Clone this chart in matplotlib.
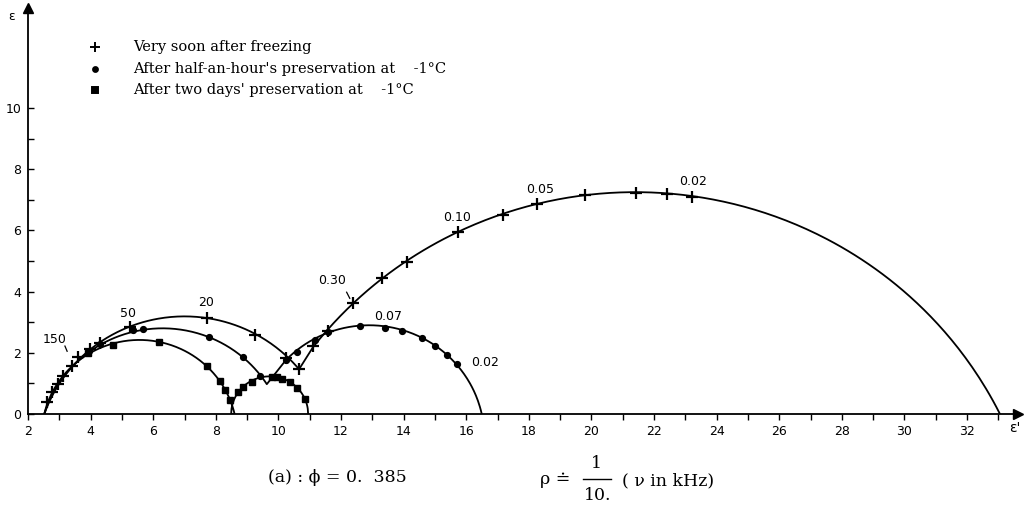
import numpy as np
import matplotlib.pyplot as plt

# measured points (eps', eps'') for the three runs
cross_x = [2.61, 2.77, 2.96, 3.12, 3.41, 3.60, 3.98, 4.30, 5.26, 7.72, 9.25, 10.24, 10.66,
           11.10, 11.58, 12.38, 13.30, 14.10, 15.74, 17.18, 18.26, 19.80, 21.43, 22.40, 23.20]
cross_y = [0.40, 0.72, 0.98, 1.25, 1.58, 1.85, 2.12, 2.32, 2.84, 3.14, 2.58, 1.82, 1.47,
           2.22, 2.70, 3.62, 4.43, 4.98, 5.95, 6.50, 6.86, 7.15, 7.22, 7.20, 7.10]

dot_x = [3.95, 4.30, 5.35, 5.67, 7.78, 8.87, 9.41, 10.24, 10.60, 11.17, 11.58,
         12.60, 13.40, 13.95, 14.60, 15.00, 15.40, 15.70]
dot_y = [2.05, 2.28, 2.75, 2.78, 2.52, 1.86, 1.25, 1.77, 2.03, 2.42, 2.68,
         2.88, 2.81, 2.71, 2.48, 2.22, 1.93, 1.64]

sq_x = [3.92, 4.70, 6.19, 7.72, 8.13, 8.30, 8.45, 8.71, 8.87, 9.15, 9.80, 9.95,
        10.10, 10.37, 10.60, 10.85]
sq_y = [1.98, 2.25, 2.34, 1.56, 1.07, 0.80, 0.45, 0.72, 0.88, 1.05, 1.20, 1.20,
        1.14, 1.04, 0.86, 0.50]

# fitted circular arcs: (centre x, centre y, radius, x from, x to)
cross_arcs = [(7.00, -1.55, 4.74, 2.52, 10.66), (21.40, -5.74, 12.99, 11.10, 33.05)]
dot_arcs = [(6.30, -1.15, 3.95, 2.52, 9.63), (12.90, -0.78, 3.68, 10.24, 16.50)]
sq_arcs = [(5.56, -0.70, 3.12, 2.52, 8.60), (9.72, 0.0, 1.23, 8.49, 10.95)]

# frequency labels (kHz)
freq_text = ["150", "50", "20", "0.30", "0.10", "0.05", "0.02", "0.07", "0.02"]
freq_x = [2.85, 5.20, 7.70, 11.70, 15.70, 18.35, 23.25, 13.50, 16.60]
freq_y = [2.45, 3.30, 3.65, 4.35, 6.42, 7.35, 7.60, 3.20, 1.68]

legend_labels = ["Very soon after freezing",
                 "After half-an-hour's preservation at    -1°C",
                 "After two days' preservation at    -1°C"]


def arc_path(arcs, n=200):
    xs, ys = [], []
    for cx, cy, r, x0, x1 in arcs:
        x = np.linspace(x0, x1, n)
        y = cy + np.sqrt(np.clip(r**2 - (x - cx)**2, 0, None))
        xs.append(x)
        ys.append(y)
    return np.concatenate(xs), np.concatenate(ys)


plt.rcParams['font.family'] = ['DejaVu Sans']
fig = plt.figure(figsize=(10.26, 5.15), dpi=100)
W, H = 1026, 515
ax = fig.add_axes([28 / W, (H - 414) / H, (1018 - 28) / W, (414 - 8) / H])
ax.set_xlim(2, 2 + 990 / 31.3)
ax.set_ylim(0, 406 / 30.6)

for arcs in (cross_arcs, dot_arcs, sq_arcs):
    x, y = arc_path(arcs)
    ax.plot(x, y, color='black', lw=1.3, solid_capstyle='round')

ax.plot(cross_x, cross_y, ls='none', marker='+', ms=8, mew=1.6, color='black')
ax.plot(dot_x, dot_y, ls='none', marker='o', ms=4.2, color='black')
ax.plot(sq_x, sq_y, ls='none', marker='s', ms=4.2, color='black')

for t, x, y in zip(freq_text, freq_x, freq_y):
    ax.text(x, y, t, ha='center', va='center', fontsize=9)
# small leader ticks under two labels
ax.plot([3.18, 3.25], [2.22, 2.05], color='black', lw=0.9)
ax.plot([12.18, 12.28], [3.98, 3.78], color='black', lw=0.9)

# legend drawn by hand
leg_mk = ['+', 'o', 's']
leg_ms = [7, 3.5, 4]
leg_y = [0.903, 0.850, 0.797]
for m, s, yy, lab in zip(leg_mk, leg_ms, leg_y, legend_labels):
    ax.plot([0.068], [yy], marker=m, ms=s, mew=1.4, color='black',
            transform=ax.transAxes, clip_on=False)
    ax.text(0.106, yy, lab, transform=ax.transAxes, va='center', ha='left',
            fontsize=10.5, family='DejaVu Serif')

# axes with arrow heads
for side in ('top', 'right'):
    ax.spines[side].set_visible(False)
for side in ('left', 'bottom'):
    ax.spines[side].set_linewidth(1.3)
ax.plot(1, 0, '>k', ms=7, transform=ax.transAxes, clip_on=False)
ax.plot(0, 1, '^k', ms=7, transform=ax.transAxes, clip_on=False)

ax.set_xticks(range(2, 33, 2))
ax.set_xticks(range(3, 34, 2), minor=True)
ax.set_yticks(range(0, 11, 2))
ax.set_yticks(range(1, 11, 2), minor=True)
ax.tick_params(axis='x', which='both', direction='out', length=4, width=1, labelsize=9, pad=4)
ax.tick_params(axis='y', which='both', direction='in', length=4, width=1, labelsize=9, pad=5)

fig.text(12 / W, 1 - 17 / H, 'ε', fontsize=9, ha='center', va='center')
fig.text(1015 / W, 1 - 428 / H, "ε'", fontsize=10, ha='center', va='center')

# caption
cap = dict(fontsize=12.5, family='DejaVu Serif', va='center')
fig.text(268 / W, 1 - 478 / H, '(a) : ϕ = 0.  385', ha='left', **cap)
fig.text(540 / W, 1 - 480 / H, 'ρ ≐', ha='left', **cap)
fig.text(596 / W, 1 - 464 / H, '1', ha='center', **cap)
fig.add_artist(plt.Line2D([583 / W, 611 / W], [1 - 479 / H, 1 - 479 / H], color='black', lw=1))
fig.text(598 / W, 1 - 496 / H, '10.', ha='center', **cap)
fig.text(622 / W, 1 - 481 / H, '( ν in kHz)', ha='left', **cap)

fig.savefig('out.png', dpi=100)
